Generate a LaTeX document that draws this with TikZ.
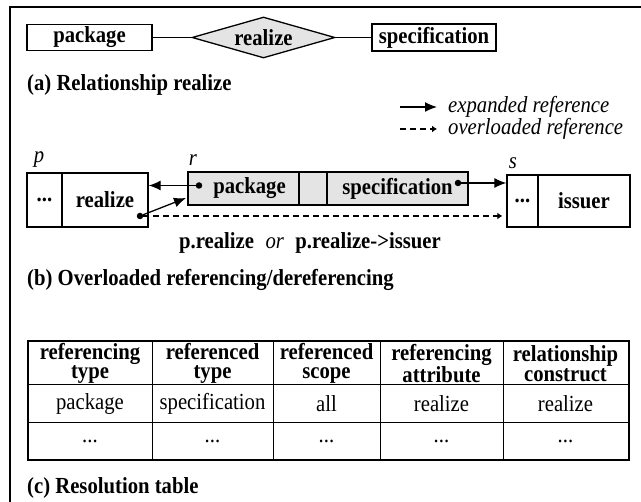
\documentclass[tikz,border=0pt]{standalone}
\usepackage{fontspec}
\setmainfont{Liberation Serif}[FakeStretch=0.9]
\usetikzlibrary{shapes.geometric,arrows.meta}
\newcommand\figfont{\fontsize{23}{25}\selectfont}
\definecolor{shade}{HTML}{E4E4E4}
\begin{document}
\begin{tikzpicture}[x=1pt,y=-1pt,
  bx/.style={draw, line width=1.3pt, inner sep=0pt, font=\figfont\bfseries},
  gbx/.style={bx, fill=shade},
  rel/.style={diamond, draw, line width=1.3pt, fill=shade, inner sep=0pt, aspect=3.5,
    minimum width=143pt, minimum height=41pt, font=\figfont\bfseries},
  lbl/.style={inner sep=0pt, font=\figfont\bfseries},
  figcaption/.style={lbl, anchor=west},
  ital/.style={inner sep=0pt, font=\figfont\itshape},
  dot/.style={circle, fill, inner sep=0pt, minimum size=6.5pt},
  link/.style={line width=1.3pt},
  arr/.style={line width=1.3pt, -{Latex[length=12pt,width=10pt]}},
  ovl/.style={line width=2.4pt, dash pattern=on 6pt off 4pt, -{Latex[length=5pt,width=7pt]}},
  hcell/.style={draw, line width=1pt, inner sep=0pt, align=center, font=\fontsize{23}{19.5}\selectfont\bfseries},
  bcell/.style={draw, line width=1pt, inner sep=0pt, font=\figfont},
]
\useasboundingbox (0,0) rectangle (641,502);
% outer frame
\draw[line width=1.5pt] (641,7) -- (10,7) -- (10,502);

% (a) relationship
\node[bx, minimum width=125pt, minimum height=26pt] (pkgA) at (89.5,37.5) {package};
\node[rel] (relA) at (263.5,37.5) {realize};
\node[bx, minimum width=124pt, minimum height=27pt] (specA) at (434,37.5) {specification};
\draw[link] (pkgA.east) -- (relA.west);
\draw[link] (relA.east) -- (specA.west);
\node[figcaption] (capA) at (27,85) {(a) Relationship realize};

% legend
\coordinate (lgE1) at (400,107);
\coordinate (lgE2) at (437,107);
\draw[arr] (lgE1) -- (lgE2);
\node[ital, anchor=west] (lgEt) at (448,107) {expanded reference};
\coordinate (lgO1) at (400,129);
\coordinate (lgO2) at (437,129);
\draw[ovl] (lgO1) -- (lgO2);
\node[ital, anchor=west] (lgOt) at (448,129) {overloaded reference};

% (b) objects p, r, s
\node[ital] (pLab) at (39,160) {p};
\node[bx, minimum width=35pt, minimum height=54pt] (pDots) at (44.5,200) {...};
\node[bx, minimum width=86pt, minimum height=54pt] (pReal) at (105,200) {realize};

\node[ital] (rLab) at (193,160) {r};
\node[gbx, minimum width=111pt, minimum height=33pt] (rPkg) at (243.5,188.5) {\hspace{12pt}package};
\node[gbx, minimum width=28pt, minimum height=33pt] (rMid) at (313,188.5) {};
\node[gbx, minimum width=141pt, minimum height=33pt] (rSpec) at (397.5,188.5) {specification\hspace{20pt}};

\node[ital] (sLab) at (513,163) {s};
\node[bx, minimum width=31pt, minimum height=52pt] (sDots) at (522.5,201) {...};
\node[bx, minimum width=92pt, minimum height=52pt] (sIss) at (584,201) {issuer};

% reference handles
\node[dot] (bPkg) at (199,185.5) {};
\node[dot] (bSpec) at (458,183) {};
\node[dot] (bReal) at (140,216) {};
\coordinate (rIn) at (186,198);

\draw[arr] (bPkg) -- (bPkg -| pReal.east);
\draw[arr] (bReal) -- (rIn);
\draw[arr] (bSpec) -- (bSpec -| sDots.west);
\draw[ovl, shorten >=4pt] (bReal) -- (bReal -| sDots.west);

\node[lbl] (expr) at (310,243) {p.realize\enspace{\mdseries\itshape or}\enspace p.realize->issuer};
\node[figcaption] (capB) at (27,280) {(b) Overloaded referencing/dereferencing};

% (c) resolution table
\node[hcell, minimum width=124pt, minimum height=43pt] (h1) at (90,363.5) {referencing\\type};
\node[hcell, minimum width=121pt, minimum height=43pt] (h2) at (212.5,363.5) {referenced\\type};
\node[hcell, minimum width=107pt, minimum height=43pt] (h3) at (326.5,363.5) {referenced\\scope};
\node[hcell, minimum width=123pt, minimum height=43pt] (h4) at (441.5,363.5) {referencing\\attribute};
\node[hcell, minimum width=125pt, minimum height=43pt] (h5) at (565.5,363.5) {relationship\\construct};

\node[bcell, minimum width=124pt, minimum height=38pt] (a1) at (90,404) {package};
\node[bcell, minimum width=121pt, minimum height=38pt] (a2) at (212.5,404) {specification};
\node[bcell, minimum width=107pt, minimum height=38pt] (a3) at (326.5,404) {all};
\node[bcell, minimum width=123pt, minimum height=38pt] (a4) at (441.5,404) {realize};
\node[bcell, minimum width=125pt, minimum height=38pt] (a5) at (565.5,404) {realize};

\node[bcell, minimum width=124pt, minimum height=37pt] (d1) at (90,441.5) {...};
\node[bcell, minimum width=121pt, minimum height=37pt] (d2) at (212.5,441.5) {...};
\node[bcell, minimum width=107pt, minimum height=37pt] (d3) at (326.5,441.5) {...};
\node[bcell, minimum width=123pt, minimum height=37pt] (d4) at (441.5,441.5) {...};
\node[bcell, minimum width=125pt, minimum height=37pt] (d5) at (565.5,441.5) {...};

\draw[line width=2pt] (h1.north west) rectangle (d5.south east);

\node[figcaption] (capC) at (27,488) {(c) Resolution table};
\end{tikzpicture}
\end{document}
